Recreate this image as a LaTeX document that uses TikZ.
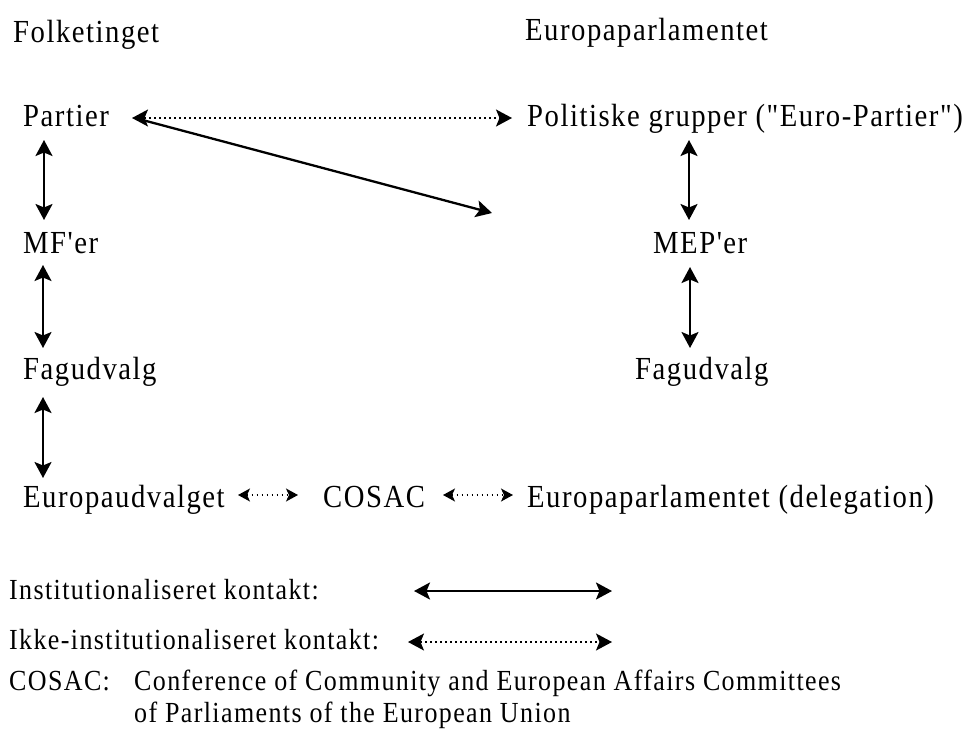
\documentclass[tikz,border=0pt]{standalone}
\usepackage{fontspec}
\usepackage{graphicx}
\setmainfont{Liberation Serif}[LetterSpace=5.3,Ligatures=TeXOff]
\usetikzlibrary{arrows.meta}
\newcommand{\tallt}[1]{\scalebox{1}[1.12]{#1}}
\tikzset{
  lbl/.style={anchor=base west, inner sep=0pt, font=\fontsize{28.7}{34}\selectfont},
  leg/.style={anchor=base west, inner sep=0pt, font=\fontsize{26}{31}\selectfont},
  bighead/.tip={Stealth[length=16pt,width=17pt,inset=3.5pt]},
  smallhead/.tip={Stealth[length=12pt,width=13pt,inset=3pt]},
  big/.style={line width=2.3pt, bighead-bighead},
  bigdot/.style={line width=1.5pt, dash pattern=on 1.5pt off 3.5pt, bighead-bighead},
  smalldot/.style={line width=1.5pt, dash pattern=on 1.5pt off 3.5pt, smallhead-smallhead},
}
\begin{document}
\begin{tikzpicture}[x=1pt,y=-1pt]
\useasboundingbox (0,0) rectangle (965,729);
\fill[white] (0,0) rectangle (965,729);
% headings
\node[lbl] (folk) at (13,42) {\tallt{Folketinget}};
\node[lbl] (eph) at (525,40) {\tallt{Europaparlamentet}};
% left column
\node[lbl] (partier) at (23,126) {\tallt{Partier}};
\node[lbl] (mf) at (23,253) {\tallt{MF'er}};
\node[lbl] (fagl) at (23,379) {\tallt{Fagudvalg}};
\node[lbl] (euud) at (23,507) {\tallt{Europaudvalget}};
% right column
\node[lbl] (pol) at (527,126) {\tallt{Politiske grupper ("Euro-Partier")}};
\node[lbl] (mep) at (653,253) {\tallt{MEP'er}};
\node[lbl] (fagr) at (635,379) {\tallt{Fagudvalg}};
\node[lbl] (cosac) at (323,507) {\tallt{COSAC}};
\node[lbl] (epdel) at (527,507) {\tallt{Europaparlamentet (delegation)}};
% legend
\node[leg] (leg1) at (9,599) {\tallt{Institutionaliseret kontakt:}};
\node[leg] (leg2) at (9,649) {\tallt{Ikke-institutionaliseret kontakt:}};
\node[leg] (leg3) at (9,690) {\tallt{COSAC:}};
\node[leg] (leg4) at (134,690) {\tallt{Conference of Community and European Affairs Committees}};
\node[leg] (leg5) at (134,722) {\tallt{of Parliaments of the European Union}};
% connectors
\draw[bigdot] ([shift={(109,-8)}]partier.base west) -- ([shift={(-15,-8)}]pol.base west);
\coordinate (diagend) at (492,213);
\draw[line width=2.3pt, -bighead] ([shift={(112,-8)}]partier.base west) -- (diagend);
\draw[big] ([shift={(21,14)}]partier.base west) -- ([shift={(21,-33)}]mf.base west);
\draw[big] ([shift={(20,12)}]mf.base west) -- ([shift={(20,-31)}]fagl.base west);
\draw[big] ([shift={(20,18)}]fagl.base west) -- ([shift={(20,-29)}]euud.base west);
\draw[big] ([shift={(162,14)}]pol.base west) -- ([shift={(36,-33)}]mep.base west);
\draw[big] ([shift={(37,14)}]mep.base west) -- ([shift={(55,-31)}]fagr.base west);
\draw[smalldot] ([shift={(-85,-12)}]cosac.base west) -- ([shift={(-25,-12)}]cosac.base west);
\draw[smalldot] ([shift={(-84,-12)}]epdel.base west) -- ([shift={(-14,-12)}]epdel.base west);
\coordinate (l1a) at (414,591);
\coordinate (l1b) at (612,591);
\coordinate (l2a) at (408,642);
\coordinate (l2b) at (612,642);
\draw[big] (l1a) -- (l1b);
\draw[bigdot] (l2a) -- (l2b);
\end{tikzpicture}
\end{document}
